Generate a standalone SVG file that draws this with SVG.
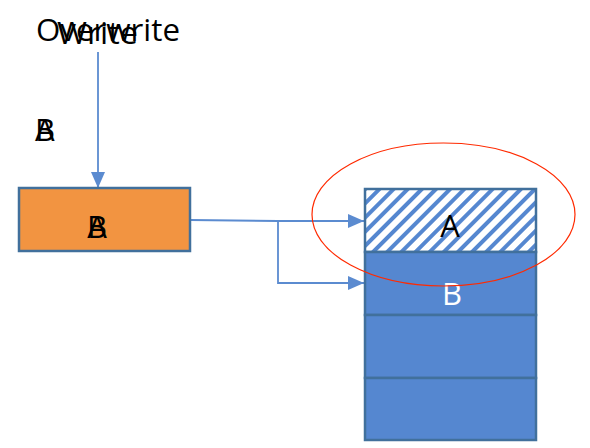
<svg xmlns="http://www.w3.org/2000/svg" width="590" height="448" viewBox="0 0 590 448">
<defs>
<style>
.t{font-family:"Open Sans","Liberation Sans",sans-serif;font-size:31px;fill:#000}
.c{fill:none;stroke:#5B8BD0;stroke-width:1.8}
.cell{fill:#5587D0;stroke:#41709C;stroke-width:2.5}
</style>
<marker id="ah" markerWidth="16" markerHeight="14" refX="16" refY="7" orient="auto" markerUnits="userSpaceOnUse">
<path d="M0,0 L16,7 L0,14 Z" fill="#5B8BD0"/>
</marker>
<pattern id="hatch" patternUnits="userSpaceOnUse" width="10" height="10" patternTransform="rotate(45)">
<rect width="10" height="10" fill="#fff"/>
<rect x="0" y="0" width="4" height="10" fill="#5587D0"/>
</pattern>
</defs>
<g id="labels">
<text class="t" x="36" y="41" textLength="144" lengthAdjust="spacingAndGlyphs">Overwrite</text>
<text class="t" x="57" y="44" textLength="81" lengthAdjust="spacingAndGlyphs">Write</text>
<text class="t" x="35" y="141">A</text>
<text class="t" x="35" y="141">B</text>
</g>
<g id="connectors">
<path class="c" d="M98,52 V188" marker-end="url(#ah)"/>
<path class="c" d="M190,220 L278,221 H364" marker-end="url(#ah)"/>
<path class="c" d="M278,221 V283 H364" marker-end="url(#ah)"/>
</g>
<g id="buffer">
<rect x="19" y="188" width="171" height="63" fill="#F29441" stroke="#41709C" stroke-width="2.5"/>
<text class="t" x="97" y="238" text-anchor="middle">A</text>
<text class="t" x="97" y="238" text-anchor="middle">B</text>
</g>
<g id="stack">
<rect x="365" y="189" width="171" height="63" fill="url(#hatch)" stroke="#41709C" stroke-width="2.5"/>
<rect class="cell" x="365" y="252" width="171" height="63"/>
<rect class="cell" x="365" y="315" width="171" height="63"/>
<rect class="cell" x="365" y="378" width="171" height="62"/>
<text class="t" x="450" y="237" text-anchor="middle">A</text>
<text class="t" x="452" y="305" text-anchor="middle" style="fill:#fff">B</text>
</g>
<g id="highlight">
<ellipse cx="443.5" cy="214.5" rx="131.5" ry="71.5" fill="none" stroke="#FF2A00" stroke-width="1.2"/>
</g>
</svg>
